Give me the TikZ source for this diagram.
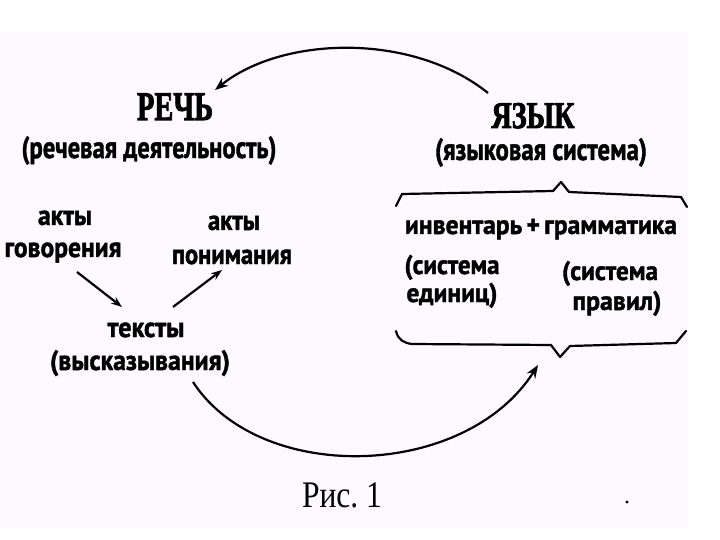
\documentclass[tikz,border=0pt]{standalone}
\usepackage{fontspec}
\usepackage{graphicx}
\setmainfont{Liberation Serif}[BoldFeatures={FakeBold=2.5}]
\newfontfamily\lblfont{PT Sans}[BoldFeatures={FakeBold=1.5}]
\usetikzlibrary{arrows.meta}
\definecolor{paper}{RGB}{253,249,252}
\newcommand\fitw[3][1.28]{\scalebox{1}[#1]{\resizebox{#2pt}{\height}{#3}}}
\tikzset{
  lbl/.style={anchor=base, inner sep=0pt, font=\lblfont\bfseries\fontsize{22}{24}\selectfont},
  sub/.style={anchor=base, inner sep=0pt, font=\lblfont\bfseries\fontsize{24}{26}\selectfont},
  boxlbl/.style={anchor=base, inner sep=0pt, font=\lblfont\bfseries\fontsize{21}{23}\selectfont},
  title/.style={anchor=base, inner sep=0pt, font=\bfseries\fontsize{29}{31}\selectfont},
  arc/.style={line width=2.2pt, -{Stealth[length=13pt,width=10pt]}},
  sarrow/.style={line width=2.2pt, -{Stealth[length=11pt,width=8pt]}},
  brace/.style={line width=2.2pt, line join=round, line cap=round}
}
\begin{document}
\begin{tikzpicture}[x=1pt,y=-1pt]
\useasboundingbox (0,0) rectangle (720,540);
\fill[white] (0,0) rectangle (720,540);
\fill[paper] (0,32) rectangle (688,527);
% titles
\node[title] (rech) at (175,120) {\fitw[1.4]{76}{РЕЧЬ}};
\node[sub] (rechsub) at (149,158) {\fitw{255}{(речевая деятельность)}};
\node[title] (yaz) at (533,128) {\fitw[1.3]{83}{ЯЗЫК}};
\node[sub] (yazsub) at (541,160) {\fitw{212}{(языковая система)}};
% left group
\node[lbl] (akt1) at (65,225) {\fitw{54}{акты}};
\node[lbl] (gov) at (63,257) {\fitw{117}{говорения}};
\node[lbl] (akt2) at (234,230) {\fitw{52}{акты}};
\node[lbl] (pon) at (232,264) {\fitw{120}{понимания}};
\node[lbl] (tek) at (146,337) {\fitw{77}{тексты}};
\node[lbl] (vys) at (140,370) {\fitw{180}{(высказывания)}};
% right box
\node[boxlbl] (inv) at (541,234) {\fitw{272}{инвентарь\,+\,грамматика}};
\node[boxlbl] (sys1) at (452,274) {\fitw{95}{(система}};
\node[boxlbl] (edi) at (452,302) {\fitw{91}{единиц)}};
\node[boxlbl] (sys2) at (610,280) {\fitw{96}{(система}};
\node[boxlbl] (pra) at (617,310) {\fitw{89}{правил)}};
% caption
\node[anchor=base, inner sep=0pt, font=\fontsize{30}{32}\selectfont] (cap) at (342,507) {\fitw[1.25]{80}{Рис.~1}};
\fill (627,502) circle (1.6pt);
% braces
\draw[brace] (396,206) -- (402,194) -- (553,191) -- (561,182) -- (569,192) -- (681,197) -- (687,207);
\draw[brace] (396,331) .. controls (398,340) and (404,343) .. (412,344) -- (551,345) -- (560,357) -- (570,346) -- (676,343) -- (686,331);
% arcs
\coordinate (a1s) at (488,93);
\coordinate (a1e) at (215,90);
\coordinate (a2s) at (193,382);
\coordinate (a2e) at (538,365);
\draw[arc] (a1s) .. controls (412,32) and (282,36) .. (a1e);
\draw[arc] (a2s) .. controls (260,485) and (465,480) .. (a2e);
% small arrows
\coordinate (s1s) at (77,272);
\coordinate (s1e) at (122,307);
\coordinate (s2s) at (173,307);
\coordinate (s2e) at (222,270);
\draw[sarrow] (s1s) -- (s1e);
\draw[sarrow] (s2s) -- (s2e);
\end{tikzpicture}
\end{document}
